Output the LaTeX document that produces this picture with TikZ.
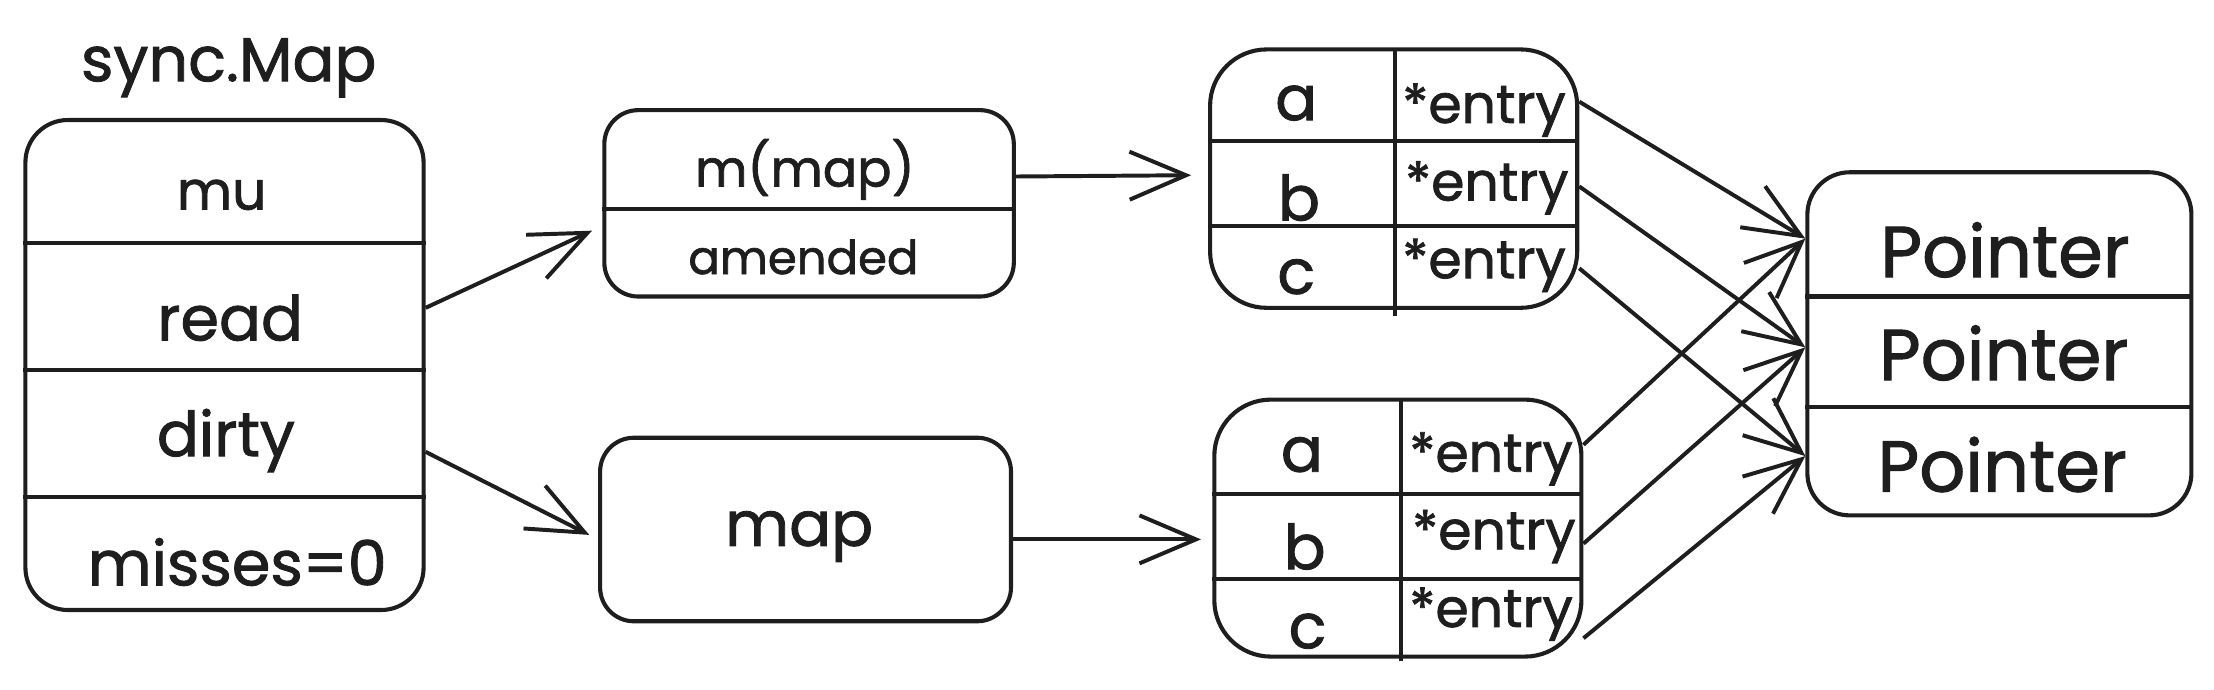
\documentclass[tikz,border=0pt]{standalone}
\usepackage{fontspec}
\setmainfont{Poppins}[FakeBold=1.4]
\usetikzlibrary{arrows.meta,calc}
\definecolor{ink}{HTML}{1E1E1E}
\begin{document}
\begin{tikzpicture}[x=1pt,y=-1pt,
  box/.style={draw=ink, line width=2.9pt, rounded corners=30pt, inner sep=0pt},
  sbox/.style={box, rounded corners=24pt},
  div/.style={draw=ink, line width=2.9pt},
  lbl/.style={text=ink, inner sep=0pt, font=\fontsize{44}{50}\selectfont},
  sml/.style={text=ink, inner sep=0pt, font=\fontsize{38}{44}\selectfont},
  big/.style={text=ink, inner sep=0pt, font=\fontsize{51}{58}\selectfont},
  mid/.style={text=ink, inner sep=0pt, font=\fontsize{36}{42}\selectfont},
  ment/.style={text=ink, inner sep=0pt, font=\fontsize{33}{40}\selectfont},
  ent/.style={text=ink, inner sep=0pt, font=\fontsize{38}{44}\selectfont},
  conn/.style={draw=ink, line width=2.8pt, -{Straight Barb[length=40pt,width=34pt]}}]
\useasboundingbox (0,0) rectangle (1568,488);

% sync.Map
\node[lbl] (title) at (162,48) {sync.Map};
\node[box, minimum width=282pt, minimum height=347pt] (sm) at (159,258.5) {};
\node[sml] (mu) at (157,138) {mu};
\node[lbl] (read) at (163,225) {read};
\node[lbl] (dirty) at (160,312) {dirty};
\node[lbl] (misses) at (168,398) {misses=0};
\draw[div] (sm.west |- 0,172) -- (sm.east |- 0,172);
\draw[div] (sm.west |- 0,262) -- (sm.east |- 0,262);
\draw[div] (sm.west |- 0,352) -- (sm.east |- 0,352);

% m(map) / amended
\node[sbox, minimum width=290pt, minimum height=132pt] (mb) at (573,144) {};
\node[mid] (mm) at (570,120) {m(map)};
\node[ment] (am) at (569,182) {amended};
\draw[div] (mb.west |- 0,148) -- (mb.east |- 0,148);

% map
\node[sbox, minimum width=291pt, minimum height=130pt] (mp) at (570.5,375) {};
\node[lbl] (mpt) at (566,380) {map};

% table 1
\node[box, rounded corners=40pt, minimum width=260pt, minimum height=183pt] (t1) at (987,126.5) {};
\draw[div] (t1.west |- 0,100) -- (t1.east |- 0,100);
\draw[div] (t1.west |- 0,160) -- (t1.east |- 0,160);
\draw[div] (988,35) -- (988,224);
\node[lbl] (t1a) at (918,73) {a};
\node[lbl] (t1b) at (920,140) {b};
\node[lbl] (t1c) at (918,196) {c};
\node[ent] (t1e1) at (1051,78) {*entry};
\node[ent] (t1e2) at (1053,133) {*entry};
\node[ent] (t1e3) at (1051,188) {*entry};

% table 2
\node[box, rounded corners=40pt, minimum width=260pt, minimum height=182pt] (t2) at (990,374) {};
\draw[div] (t2.west |- 0,350) -- (t2.east |- 0,350);
\draw[div] (t2.west |- 0,410) -- (t2.east |- 0,410);
\draw[div] (992,283) -- (992,468);
\node[lbl] (t2a) at (922,322) {a};
\node[lbl] (t2b) at (924,387) {b};
\node[lbl] (t2c) at (926,447) {c};
\node[ent] (t2e1) at (1056,325) {*entry};
\node[ent] (t2e2) at (1058,380) {*entry};
\node[ent] (t2e3) at (1056,435) {*entry};

% pointers
\node[box, minimum width=272pt, minimum height=243pt] (ptr) at (1416,243.5) {};
\draw[div] (ptr.west |- 0,210) -- (ptr.east |- 0,210);
\draw[div] (ptr.west |- 0,288) -- (ptr.east |- 0,288);
\node[big] (p1) at (1420,177) {Pointer};
\node[big] (p2) at (1419,250) {Pointer};
\node[big] (p3) at (1418,329) {Pointer};

% connectors
\coordinate (readout) at (sm.east |- 0,218);
\coordinate (dirtyout) at (sm.east |- 0,320);
\coordinate (mbin) at (mb.west |- 0,160);
\coordinate (mpin) at (mp.west |- 0,382);
\draw[conn, shorten >=8pt] (readout) -- (mbin);
\draw[conn, shorten >=7pt] (dirtyout) -- (mpin);
\draw[conn, shorten >=12pt] (mb.east |- 0,125) -- (t1.west |- 0,124);
\draw[conn, shorten >=8pt] (mp.east |- 0,382) -- (t2.west |- 0,382);

\coordinate (pin1) at (ptr.west |- 0,169);
\coordinate (pin2) at (ptr.west |- 0,246);
\coordinate (pin3) at (ptr.west |- 0,323);
\draw[conn] (t1.east |- 0,72) -- (pin1);
\draw[conn] (t1.east |- 0,132) -- (pin2);
\draw[conn] (t1.east |- 0,190) -- (pin3);
\draw[conn] (t2.east |- 0,315) -- (pin1);
\draw[conn] (t2.east |- 0,385) -- (pin2);
\draw[conn] (t2.east |- 0,452) -- (pin3);
\end{tikzpicture}
\end{document}
